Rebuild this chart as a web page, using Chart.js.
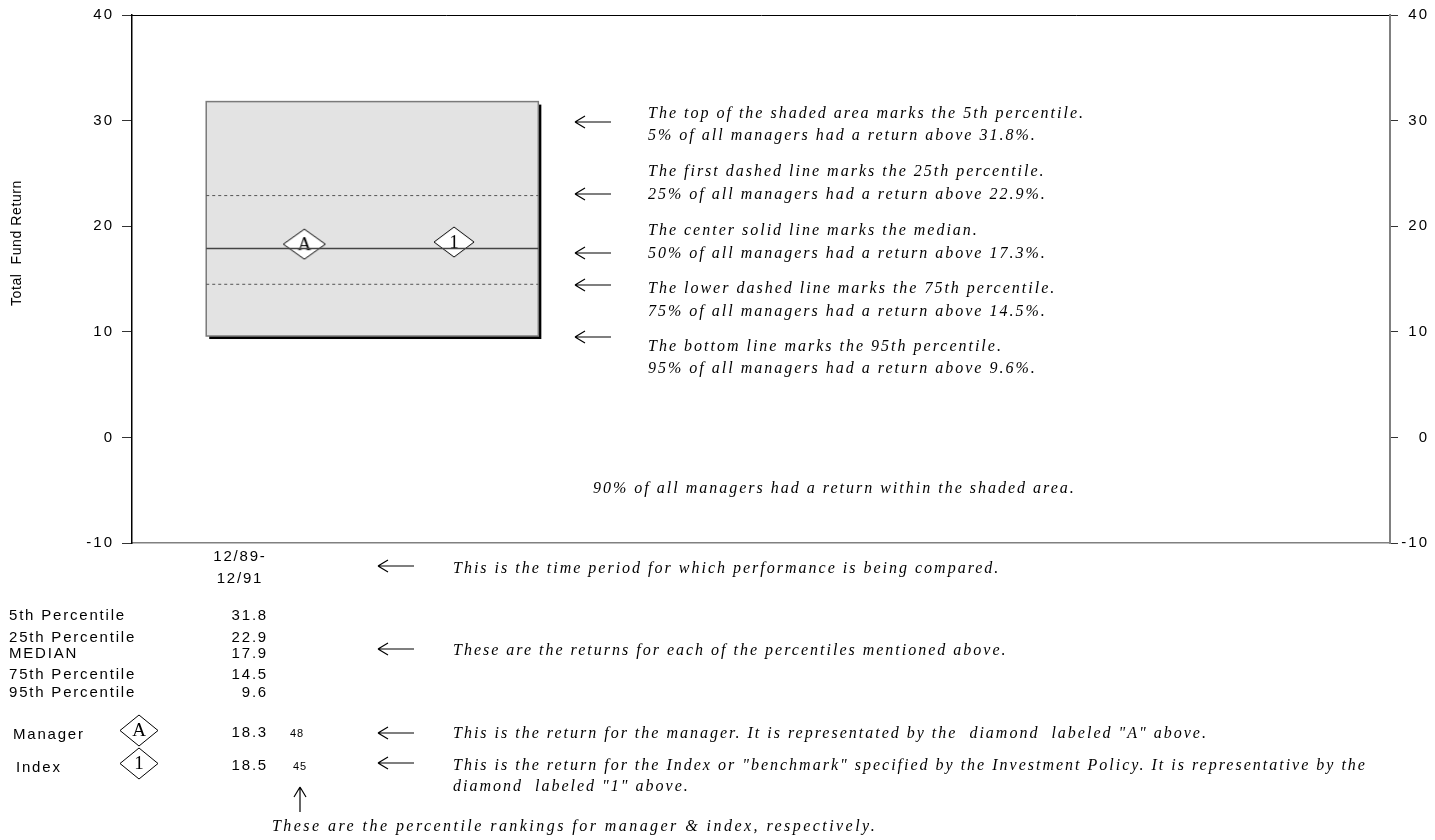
<!DOCTYPE html>
<html>
<head>
<meta charset="utf-8">
<title>Total Fund Return</title>
<script src="https://cdn.jsdelivr.net/npm/chart.js@4/dist/chart.umd.min.js"></script>
<style>
  body { margin: 0; background: #fff; }
  #wrap { position: relative; width: 1435px; height: 840px; overflow: hidden; }
  #chart { position: absolute; left: 0; top: 0; }
  .t { position: absolute; white-space: pre; line-height: 1; color: #000; }
  .sans { font-family: "Liberation Sans", Arial, sans-serif; font-size: 15px; letter-spacing: 1.8px; }
  .note { font-family: "Liberation Serif", "Times New Roman", serif; font-style: italic; font-size: 16px; letter-spacing: 2px; }
  .wide { letter-spacing: 2.45px; }
  .small { font-family: "Liberation Sans", Arial, sans-serif; font-size: 11px; letter-spacing: 1px; }
  .ytitle { font-family: "Liberation Sans", Arial, sans-serif; font-size: 14px; letter-spacing: 0.6px; }
  svg.arrow { position: absolute; overflow: visible; }
</style>
</head>
<body>
<div id="wrap">
  <canvas id="chart" width="1435" height="840"></canvas>
</div>
<script>
// Chart values
const periodLabel = ["12/89-", "12/91"];
const percentileNames = ["5th Percentile", "25th Percentile", "MEDIAN", "75th Percentile", "95th Percentile"];
const percentileValues = [31.8, 22.9, 17.9, 14.5, 9.6];
const markerNames = ["Manager", "Index"];
const markerLabels = ["A", "1"];
const markerReturns = [18.3, 18.5];
const markerRanks = [48, 45];
const yMin = -10, yMax = 40, yStep = 10;

// Layout only (hidden x scale runs 0..100)
const boxX = [5.9, 32.3];
const markerX = [13.7, 25.6];

// diamond with a letter in it, used as point style and in the table
function diamond(label, w, h) {
  const c = document.createElement("canvas");
  c.width = w + 2; c.height = h + 2;
  const g = c.getContext("2d");
  g.beginPath();
  g.moveTo(1 + w / 2, 1);
  g.lineTo(1 + w, 1 + h / 2);
  g.lineTo(1 + w / 2, 1 + h);
  g.lineTo(1, 1 + h / 2);
  g.closePath();
  g.fillStyle = "#fff";
  g.fill();
  g.strokeStyle = "#000";
  g.lineWidth = 1;
  g.stroke();
  g.fillStyle = "#000";
  g.font = "19px 'Liberation Serif', serif";
  g.textAlign = "center";
  g.textBaseline = "middle";
  g.fillText(label, 1 + w / 2, 2 + h / 2);
  return c;
}

// shaded 5th-95th percentile area with a drop shadow
const boxPlugin = {
  id: "percentileBox",
  beforeDraw(chart) {
    chart.ctx.letterSpacing = "2px";
  },
  beforeDatasetsDraw(chart) {
    const { ctx, scales: { x, y } } = chart;
    const left = x.getPixelForValue(boxX[0]);
    const right = x.getPixelForValue(boxX[1]);
    const top = y.getPixelForValue(percentileValues[0]);
    const bottom = y.getPixelForValue(percentileValues[4]);
    ctx.save();
    ctx.fillStyle = "#000";
    ctx.fillRect(left + 3, top + 3, right - left, bottom - top);
    ctx.fillStyle = "#e3e3e3";
    ctx.fillRect(left, top, right - left, bottom - top);
    ctx.strokeStyle = "#7a7a7a";
    ctx.lineWidth = 1.5;
    ctx.strokeRect(left, top, right - left, bottom - top);
    ctx.restore();
  }
};

function levelLine(value, dash, width, color) {
  return {
    type: "line",
    data: [{ x: boxX[0], y: value }, { x: boxX[1], y: value }],
    borderColor: color,
    borderWidth: width,
    borderDash: dash,
    pointRadius: 0,
    fill: false
  };
}

const yTickFont = { family: "'Liberation Sans', Arial, sans-serif", size: 15 };

const chart = new Chart(document.getElementById("chart"), {
  type: "scatter",
  data: {
    datasets: [
      levelLine(percentileValues[1], [3, 3], 1, "#555"),
      levelLine(percentileValues[2], [], 1.5, "#444"),
      levelLine(percentileValues[3], [3, 3], 1, "#555"),
      {
        data: [{ x: markerX[0], y: markerReturns[0] }],
        pointStyle: diamond(markerLabels[0], 42, 30)
      },
      {
        data: [{ x: markerX[1], y: markerReturns[1] }],
        pointStyle: diamond(markerLabels[1], 40, 30)
      }
    ]
  },
  options: {
    responsive: false,
    animation: false,
    layout: { padding: { top: 15, bottom: 297, left: 0, right: 6 } },
    plugins: { legend: { display: false }, tooltip: { enabled: false } },
    scales: {
      x: {
        type: "linear", position: "bottom", min: 0, max: 100,
        ticks: { display: false },
        grid: { display: false, drawTicks: false },
        border: { display: true, color: "#808080", width: 1.5 },
        afterFit(s) { s.height = 0; }
      },
      xTop: {
        type: "linear", position: "top", min: 0, max: 100,
        ticks: { display: false },
        grid: { display: false, drawTicks: false },
        border: { display: true, color: "#000", width: 1 },
        afterFit(s) { s.height = 0; }
      },
      y: {
        position: "left", min: yMin, max: yMax,
        ticks: { stepSize: yStep, color: "#000", font: yTickFont, padding: 8 },
        grid: { drawOnChartArea: false, drawTicks: true, tickLength: 10, tickColor: "#333" },
        border: { display: true, color: "#000", width: 1.5 },
        afterFit(s) { s.width = 132; s.paddingTop = 0; s.paddingBottom = 0; }
      },
      yRight: {
        position: "right", min: yMin, max: yMax,
        ticks: { stepSize: yStep, color: "#000", font: yTickFont, padding: 11, crossAlign: "far" },
        grid: { drawOnChartArea: false, drawTicks: true, tickLength: 8, tickColor: "#333" },
        border: { display: true, color: "#808080", width: 2 },
        afterFit(s) { s.width = 39; s.paddingTop = 0; s.paddingBottom = 0; }
      }
    }
  },
  plugins: [boxPlugin]
});

// text and arrows around the chart
const wrap = document.getElementById("wrap");

function place(text, x, y, cls, align) {
  const d = document.createElement("div");
  d.className = "t " + cls;
  d.textContent = text;
  d.style.left = x + "px";
  d.style.top = y + "px";
  const tx = align === "right" ? "-100%" : align === "center" ? "-50%" : "0";
  d.style.transform = "translate(" + tx + ", -50%)";
  wrap.appendChild(d);
  return d;
}

function arrow(x, y, dir) {
  const s = document.createElementNS("http://www.w3.org/2000/svg", "svg");
  s.setAttribute("class", "arrow");
  s.setAttribute("width", "1");
  s.setAttribute("height", "1");
  s.style.left = x + "px";
  s.style.top = y + "px";
  const d = dir === "up"
    ? "M0,0 L0,25 M0,0 L-6,10 M0,0 L6,10"
    : "M0,0 L36,0 M0,0 L10,-6 M0,0 L10,6";
  s.innerHTML = '<path d="' + d + '" stroke="#000" stroke-width="1.2" fill="none"/>';
  wrap.appendChild(s);
}

const yt = place("Total  Fund Return", 16, 243, "ytitle", "center");
yt.style.transform = "translate(-50%, -50%) rotate(-90deg)";

const notes = [
  ["The top of the shaded area marks the 5th percentile.", 113],
  ["5% of all managers had a return above 31.8%.", 135],
  ["The first dashed line marks the 25th percentile.", 171],
  ["25% of all managers had a return above 22.9%.", 194],
  ["The center solid line marks the median.", 230],
  ["50% of all managers had a return above 17.3%.", 253],
  ["The lower dashed line marks the 75th percentile.", 288],
  ["75% of all managers had a return above 14.5%.", 311],
  ["The bottom line marks the 95th percentile.", 346],
  ["95% of all managers had a return above 9.6%.", 368]
];
notes.forEach(n => place(n[0], 648, n[1], "note"));
[122, 194, 253, 285, 337].forEach(y => arrow(575, y));
place("90% of all managers had a return within the shaded area.", 593, 488, "note");

// table below the chart
place(periodLabel[0], 240, 555, "sans", "center");
place(periodLabel[1], 240, 577, "sans", "center");
arrow(378, 566);
place("This is the time period for which performance is being compared.", 453, 568, "note");

const rowY = [614, 636, 652, 673, 691];
percentileNames.forEach((name, i) => {
  place(name, 9, rowY[i], "sans");
  place(percentileValues[i].toFixed(1), 268, rowY[i], "sans", "right");
});
arrow(378, 649);
place("These are the returns for each of the percentiles mentioned above.", 453, 650, "note");

const markerRowY = [733, 766];
const markerNameX = [13, 16];
markerNames.forEach((name, i) => {
  const y = markerRowY[i];
  place(name, markerNameX[i], y, "sans");
  const c = diamond(markerLabels[i], 38, 31);
  c.style.position = "absolute";
  c.style.left = (139 - c.width / 2) + "px";
  c.style.top = (y - 3 - c.height / 2) + "px";
  wrap.appendChild(c);
  place(markerReturns[i].toFixed(1), 268, y - 2, "sans", "right");
  place(String(markerRanks[i]), 290 + i * 3, y, "small");
});
arrow(378, 733);
place("This is the return for the manager. It is representated by the  diamond  labeled \"A\" above.", 453, 733, "note");
arrow(378, 763);
place("This is the return for the Index or \"benchmark\" specified by the Investment Policy. It is representative by the", 453, 765, "note");
place("diamond  labeled \"1\" above.", 453, 786, "note");
arrow(300, 787, "up");
place("These are the percentile rankings for manager & index, respectively.", 272, 826, "note wide");
</script>
</body>
</html>
